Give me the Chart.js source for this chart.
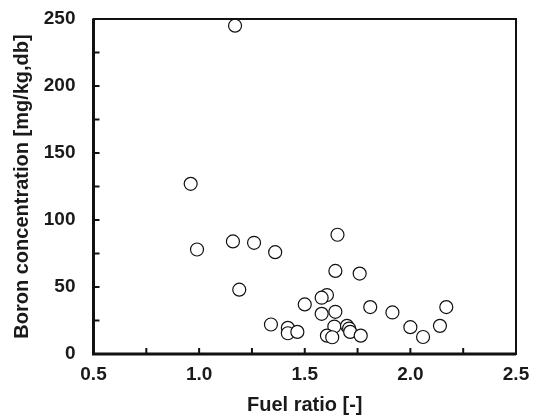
<!DOCTYPE html>
<html>
<head>
<meta charset="utf-8">
<script src="https://cdn.jsdelivr.net/npm/chart.js@4"></script>
<style>
  body { margin: 0; background: #fff; }
</style>
</head>
<body>
<canvas id="scatter-chart" width="534" height="418"></canvas>
<script>
// values
const fuelRatio = [1.17, 0.96, 0.99, 1.16, 1.26, 1.36, 1.19, 1.50, 1.34, 1.42, 1.42, 1.465,
    1.655, 1.645, 1.76, 1.605, 1.58, 1.81, 1.915, 2.17, 1.58, 1.645, 1.64, 1.70,
    1.71, 1.715, 1.605, 1.63, 1.765, 2.0, 2.06, 2.14];
const boron = [245, 127, 78, 84, 83, 76, 48, 37, 22, 19.5, 15.5, 16.5,
    89, 62, 60, 44, 42, 35, 31, 35, 30, 31.5, 20.5, 21,
    19, 16.5, 13.7, 12.5, 13.7, 20, 12.7, 21];

const xTicks = [0.5, 1.0, 1.5, 2.0, 2.5];
const yTicks = [0, 50, 100, 150, 200, 250];

const points = fuelRatio.map((x, i) => ({ x: x, y: boron[i] }));
const textColor = '#1a1a1a';
const tickFont = { family: 'Liberation Sans', size: 19, weight: 'bold' };
const titleFont = { family: 'Liberation Sans', size: 20, weight: 'bold' };

// box frame + inward tick marks
const frame = {
    id: 'frame',
    afterDatasetsDraw(chart) {
        const ctx = chart.ctx;
        const a = chart.chartArea;
        const xs = chart.scales.x, ys = chart.scales.y;
        ctx.save();
        ctx.strokeStyle = '#111';
        ctx.lineWidth = 2;
        xs.ticks.forEach(t => {
            const px = xs.getPixelForValue(t.value);
            ctx.beginPath();
            ctx.moveTo(px, a.bottom);
            ctx.lineTo(px, a.bottom - 6);
            ctx.stroke();
        });
        ys.ticks.forEach(t => {
            const py = ys.getPixelForValue(t.value);
            ctx.beginPath();
            ctx.moveTo(a.left, py);
            ctx.lineTo(a.left + 6, py);
            ctx.stroke();
        });
        ctx.lineWidth = 2;
        ctx.strokeRect(a.left, a.top, a.right - a.left, a.bottom - a.top);
        ctx.lineWidth = 3;
        ctx.beginPath();
        ctx.moveTo(a.left, a.top);
        ctx.lineTo(a.left, a.bottom);
        ctx.lineTo(a.right, a.bottom);
        ctx.stroke();
        ctx.restore();
    }
};

const config = {
    type: 'scatter',
    data: {
        datasets: [{
            data: points,
            pointRadius: 6.5,
            pointBorderWidth: 1.2,
            pointBorderColor: '#111',
            pointBackgroundColor: '#fff'
        }]
    },
    options: {
        responsive: false,
        animation: false,
        layout: { autoPadding: false, padding: { top: 19, right: 18, left: 0, bottom: 0 } },
        plugins: {
            legend: { display: false },
            tooltip: { enabled: false }
        },
        scales: {
            x: {
                type: 'linear',
                min: 0.5,
                max: 2.5,
                grid: { display: false, drawTicks: false, tickLength: 0 },
                border: { display: false },
                ticks: {
                    stepSize: 0.25,
                    autoSkip: false,
                    maxRotation: 0,
                    padding: 9,
                    color: textColor,
                    font: tickFont,
                    callback: v => xTicks.some(t => Math.abs(t - v) < 1e-6) ? v.toFixed(1) : ''
                },
                title: {
                    display: true,
                    text: 'Fuel ratio [-]',
                    color: textColor,
                    font: titleFont,
                    padding: { top: 0, bottom: 1 }
                },
                afterFit(scale) {
                    scale.height = 64;
                    scale.paddingLeft = 0;
                    scale.paddingRight = 0;
                }
            },
            y: {
                min: 0,
                max: 250,
                grid: { display: false, drawTicks: false, tickLength: 0 },
                border: { display: false },
                ticks: {
                    stepSize: 25,
                    autoSkip: false,
                    padding: 18,
                    color: textColor,
                    font: tickFont,
                    callback: v => yTicks.includes(v) ? v : ''
                },
                title: {
                    display: true,
                    text: 'Boron concentration [mg/kg,db]',
                    color: textColor,
                    font: titleFont,
                    padding: { top: 10, bottom: 0 }
                },
                afterFit(scale) {
                    scale.width = 93.5;
                    scale.paddingTop = 0;
                    scale.paddingBottom = 0;
                }
            }
        }
    },
    plugins: [frame]
};

new Chart(document.getElementById('scatter-chart'), config);
</script>
</body>
</html>
